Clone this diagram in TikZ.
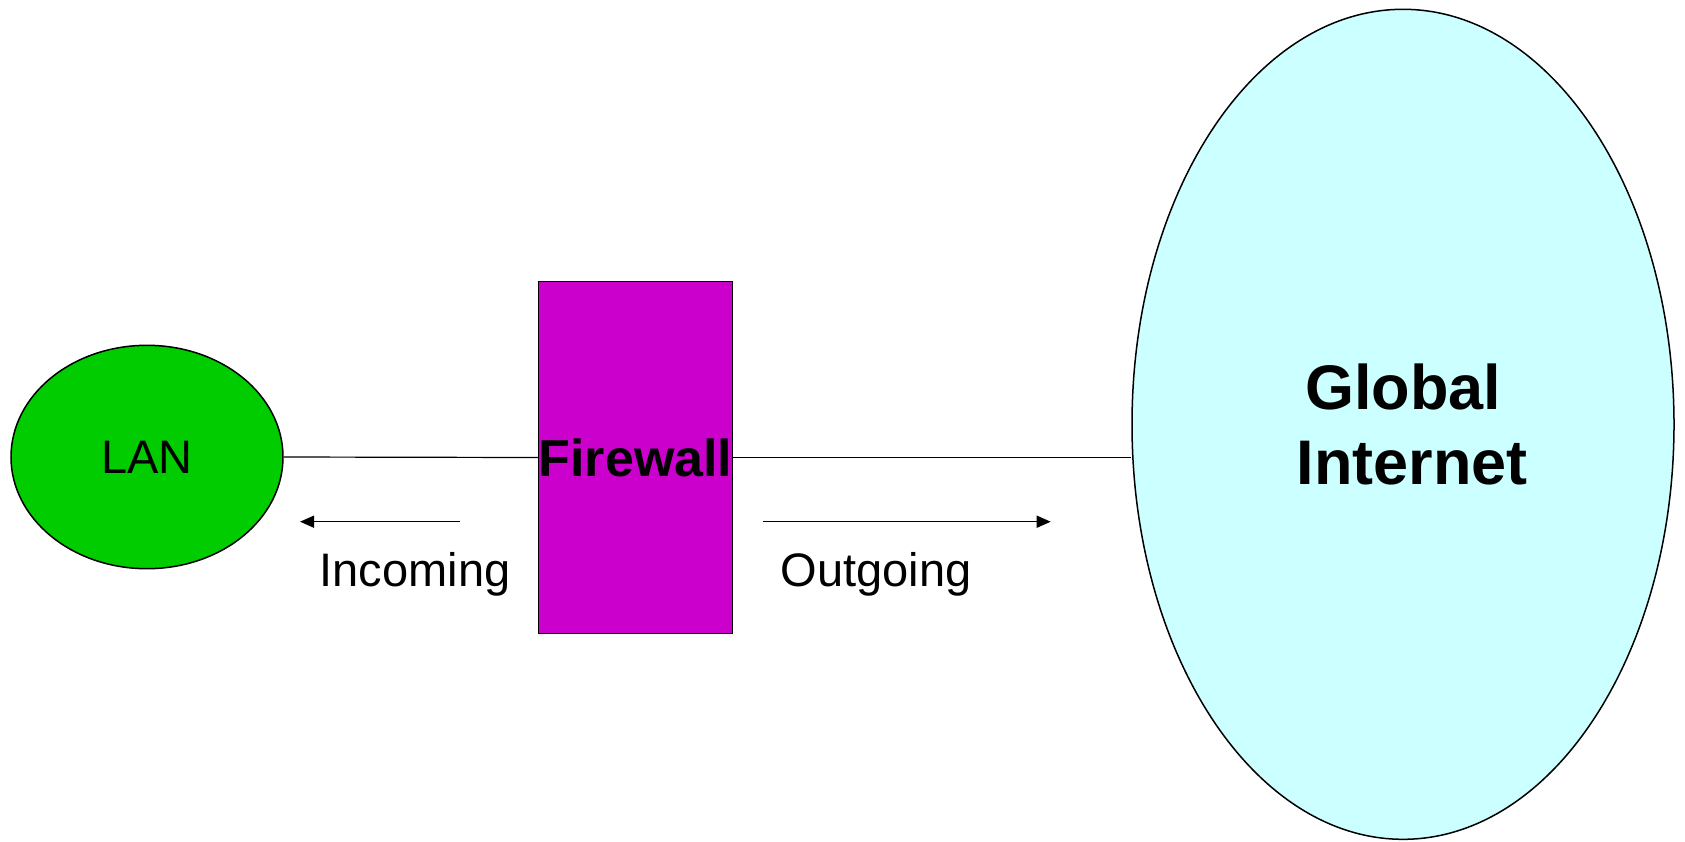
\documentclass[tikz,border=0pt]{standalone}
\usepackage{fontspec}
\setmainfont{Liberation Sans}
\usetikzlibrary{shapes.geometric,arrows.meta}
\definecolor{langreen}{HTML}{00CC00}
\definecolor{fwmagenta}{HTML}{CC00CC}
\definecolor{netcyan}{HTML}{CCFFFF}
\tikzset{
  outline/.style={draw=black,line width=0.75pt},
  cloud/.style={outline,ellipse,inner sep=0pt},
  wallbox/.style={outline,rectangle,inner sep=0pt,fill=fwmagenta},
  link/.style={draw=black,line width=0.6pt},
  flow/.style={draw=black,line width=0.75pt,-{Triangle[length=7pt,width=6pt]}},
  lbl/.style={font=\fontsize{23.5}{28}\selectfont,inner sep=0pt},
}
\begin{document}
\begin{tikzpicture}[x=0.5pt,y=-0.5pt]
\path[use as bounding box] (0,0) rectangle (1685,841);

% network zones and the firewall between them
\node[cloud,fill=langreen,minimum width=136pt,minimum height=111.7pt,
      font=\fontsize{23.5}{28}\selectfont] (lan) at (147,457) {LAN};
\node[wallbox,minimum width=96.5pt,minimum height=176pt,
      font=\fontsize{26}{30}\selectfont\bfseries] (fw) at (635.5,457.5) {Firewall};
\node[cloud,fill=netcyan,minimum width=271pt,minimum height=415pt,align=center,
      font=\fontsize{31.5}{37.5}\selectfont\bfseries] (inet) at (1403,424.3)
      {\raisebox{-1.5pt}{Global}\\\hspace*{9pt}\raisebox{-1.5pt}{Internet}};

% links through the firewall
\draw[link] (lan.east) -- (fw.west);
\draw[link] (fw.east) -- (fw.east -| inet.west);

% traffic direction arrows
\coordinate (inA) at (460,521.7);
\coordinate (inB) at (300,521.7);
\coordinate (outA) at (762.7,521.7);
\coordinate (outB) at (1050.7,521.7);
\draw[flow] (inA) -- (inB);
\draw[flow] (outA) -- (outB);

\node[lbl,anchor=base] (inlbl) at (415,586.7) {Incoming};
\node[lbl,anchor=base] (outlbl) at (876,586.7) {Outgoing};
\end{tikzpicture}
\end{document}
